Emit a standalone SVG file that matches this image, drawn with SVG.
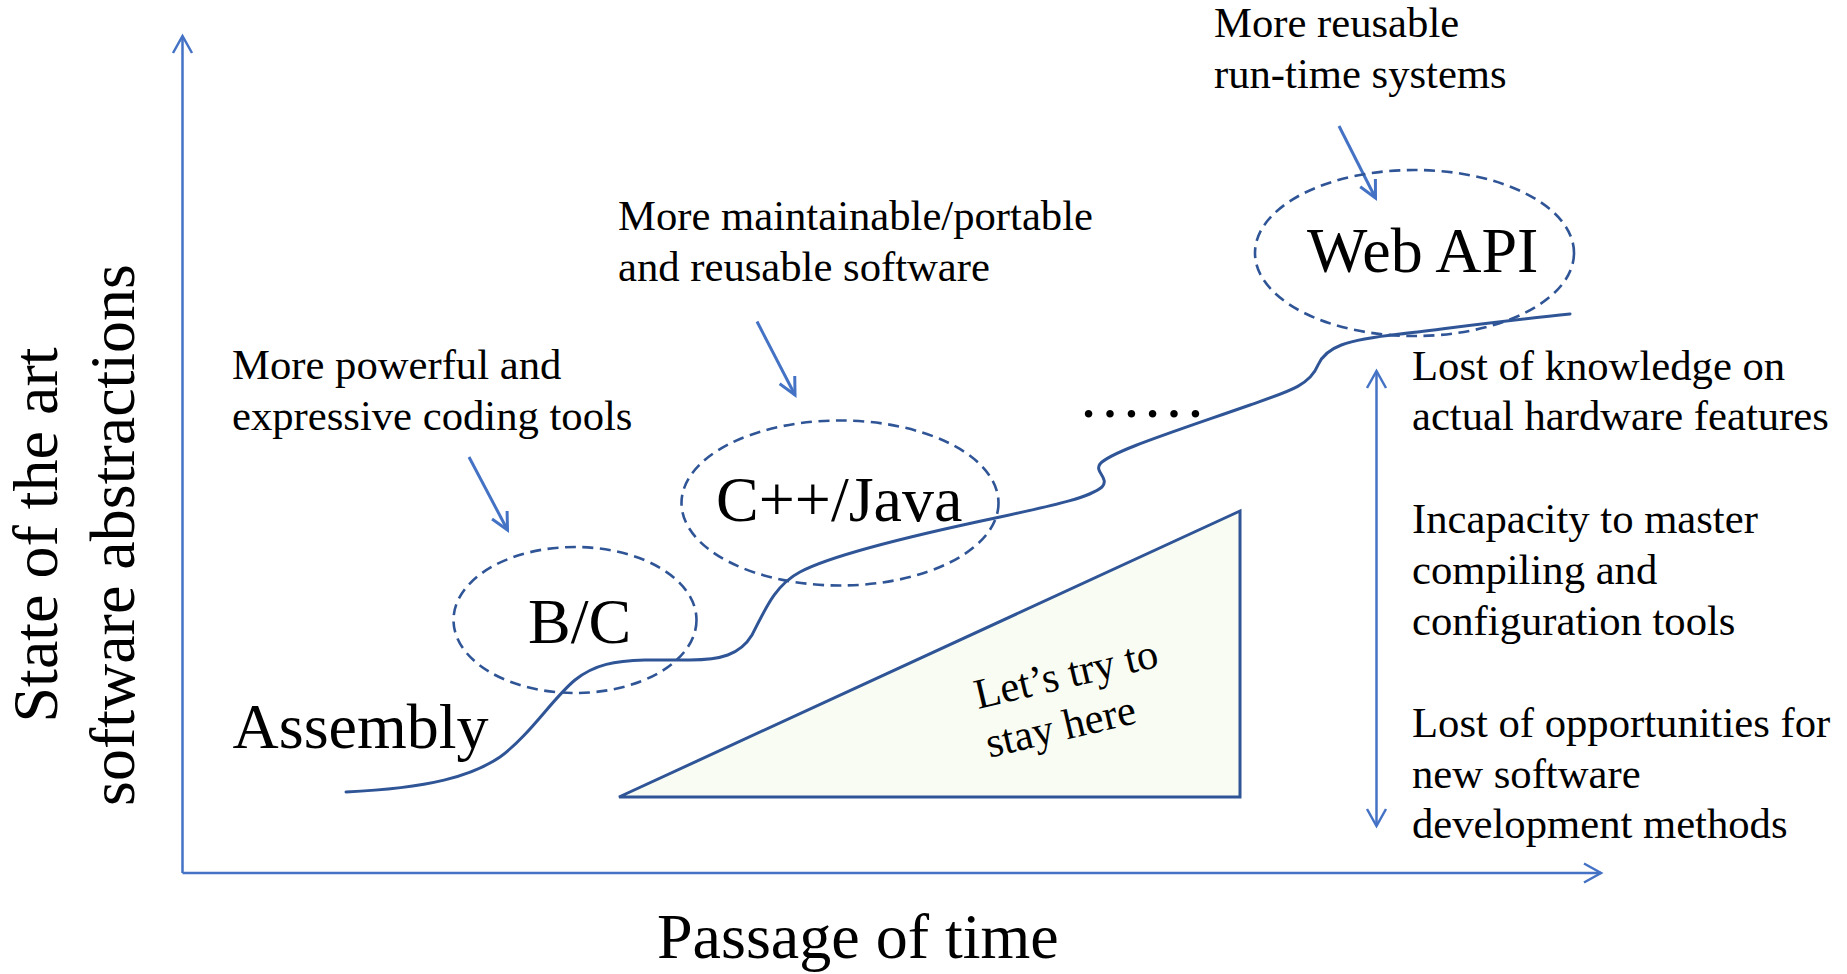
<svg xmlns="http://www.w3.org/2000/svg" width="1847" height="974" viewBox="0 0 1847 974">
<style>
  .t { font-family: "Liberation Serif", "Times New Roman", serif; fill: #000; }
  .s32 { font-size: 42.67px; }
  .s48 { font-size: 64px; }
  .axis { stroke: #4472C4; stroke-width: 2.5; fill: none; }
  .ann { stroke: #4472C4; stroke-width: 3; fill: none; }
  .curve { stroke: #2F5597; stroke-width: 3; fill: none; stroke-linecap: round; }
  .oval { stroke: #2F5597; stroke-width: 2.6; fill: none; stroke-dasharray: 11 6.5; }
</style>
<defs>
  <marker id="ah" markerUnits="userSpaceOnUse" viewBox="-20 -12 24 24" refX="0" refY="0" markerWidth="24" markerHeight="24" orient="auto-start-reverse">
    <path d="M -17 -9.5 L 0 0 L -17 9.5" fill="none" stroke="#4472C4" stroke-width="2.5"/>
  </marker>
  <marker id="ah2" markerUnits="userSpaceOnUse" viewBox="-20 -12 24 24" refX="0" refY="0" markerWidth="24" markerHeight="24" orient="auto-start-reverse">
    <path d="M -17 -8.5 L 0 0 L -17 8.5" fill="none" stroke="#4472C4" stroke-width="3"/>
  </marker>
</defs>
<rect width="1847" height="974" fill="#fff"/>

<g id="connectors">
  <line class="axis" x1="182.5" y1="873" x2="182.5" y2="36" marker-end="url(#ah)"/>
  <line class="axis" x1="182.5" y1="873" x2="1601" y2="873" marker-end="url(#ah)"/>
  <line class="axis" x1="1376.5" y1="371" x2="1376.5" y2="826" marker-start="url(#ah)" marker-end="url(#ah)"/>
  <line class="ann" x1="469" y1="457" x2="507.5" y2="530" marker-end="url(#ah2)"/>
  <line class="ann" x1="757" y1="321.5" x2="795" y2="395" marker-end="url(#ah2)"/>
  <line class="ann" x1="1339" y1="126" x2="1375.5" y2="198" marker-end="url(#ah2)"/>
</g>

<g id="triangle">
  <polygon points="619,797 1240,511 1240,797" fill="#F9FCF2" stroke="#2F5597" stroke-width="3" stroke-linejoin="miter"/>
  <g transform="translate(978 709) rotate(-13.2)">
    <text class="t s32" x="0" y="0">Let’s try to</text>
    <text class="t s32" x="0" y="50">stay here</text>
  </g>
</g>

<g id="curve">
  <path class="curve" d="M 346 792 C 430 788, 472 776, 500 757 C 530 735, 553 698, 575 680 C 595 664, 615 661, 645 660 L 690 660 C 720 660, 740 655, 752 635 C 765 610, 775 585, 800 572 C 830 556, 900 538, 1000 517 C 1060 504, 1090 497, 1102 487 C 1110 478, 1094 472, 1100 464 C 1110 452, 1170 433, 1250 405 C 1290 391, 1310 385, 1318 365 C 1326 347, 1345 340, 1400 334 C 1450 328, 1510 320, 1570 314"/>
</g>

<g id="node-bc">
  <ellipse class="oval" cx="575" cy="620" rx="121.5" ry="73"/>
  <text class="t s48" x="528" y="643">B/C</text>
</g>

<g id="node-cpp">
  <ellipse class="oval" cx="840" cy="503" rx="158.5" ry="82.5"/>
  <text class="t s48" x="716" y="521">C++/Java</text>
</g>

<g id="node-web">
  <ellipse class="oval" cx="1414.5" cy="253" rx="159.5" ry="83"/>
  <text class="t s48" x="1307" y="272">Web API</text>
</g>

<g id="node-assembly">
  <text class="t s48" x="232.5" y="748">Assembly</text>
</g>

<g id="dots">
  <text class="t s48" x="1078" y="417">……</text>
</g>

<g id="labels">
  <text class="t s32" x="232" y="379">More powerful and</text>
  <text class="t s32" x="232" y="430">expressive coding tools</text>
  <text class="t s32" x="618" y="230">More maintainable/portable</text>
  <text class="t s32" x="618" y="281">and reusable software</text>
  <text class="t s32" x="1214" y="37">More reusable</text>
  <text class="t s32" x="1214" y="88">run-time systems</text>
  <text class="t s32" x="1412" y="380">Lost of knowledge on</text>
  <text class="t s32" x="1412" y="430">actual hardware features</text>
  <text class="t s32" x="1412" y="533">Incapacity to master</text>
  <text class="t s32" x="1412" y="584">compiling and</text>
  <text class="t s32" x="1412" y="635">configuration tools</text>
  <text class="t s32" x="1412" y="737">Lost of opportunities for</text>
  <text class="t s32" x="1412" y="788">new software</text>
  <text class="t s32" x="1412" y="838">development methods</text>
  <text class="t s48" x="657" y="958">Passage of time</text>
  <g transform="translate(57 535) rotate(-90)">
    <text class="t s48" x="0" y="0" text-anchor="middle">State of the art</text>
    <text class="t s48" x="0" y="77" text-anchor="middle">software abstractions</text>
  </g>
</g>
</svg>
